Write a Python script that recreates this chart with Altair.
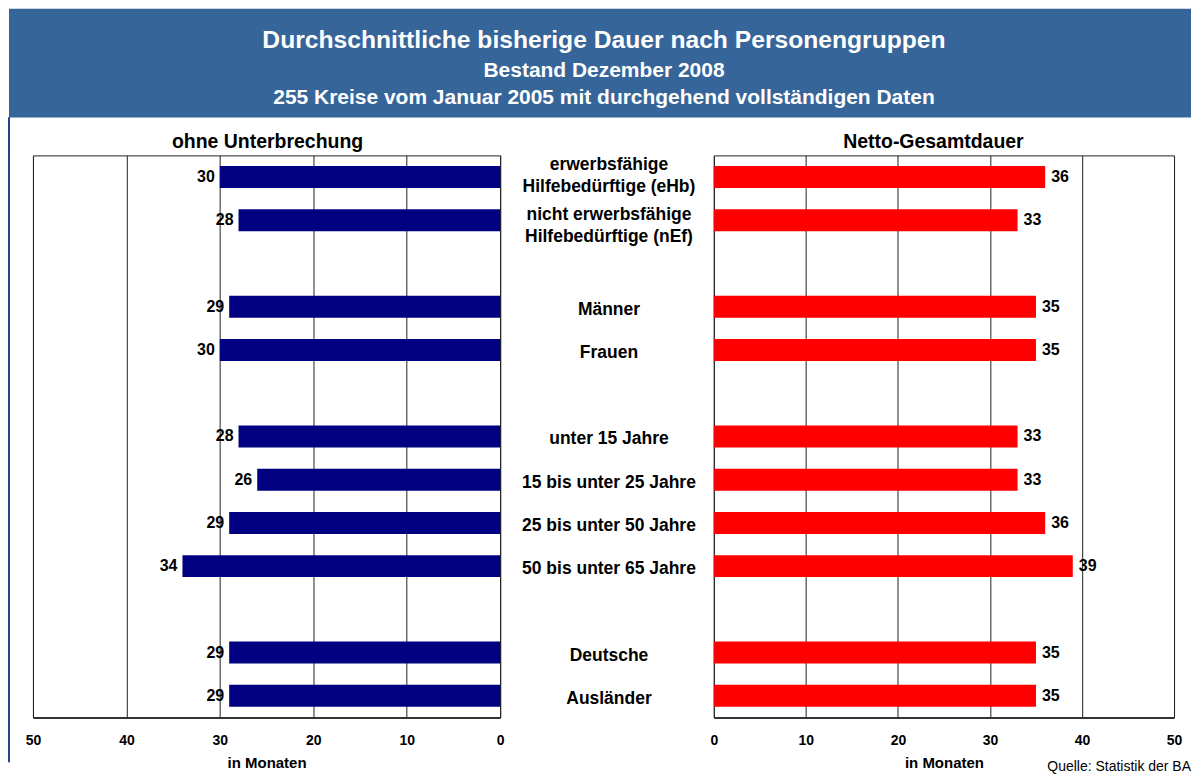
import altair as alt
import pandas as pd

FONT = "Liberation Sans"

title_lines = [
    "Durchschnittliche bisherige Dauer nach Personengruppen",
    "Bestand Dezember 2008",
    "255 Kreise vom Januar 2005 mit durchgehend vollständigen Daten",
]
panel_titles = ["ohne Unterbrechung", "Netto-Gesamtdauer"]
categories = [
    "erwerbsfähige\nHilfebedürftige (eHb)",
    "nicht erwerbsfähige\nHilfebedürftige (nEf)",
    "Männer",
    "Frauen",
    "unter 15 Jahre",
    "15 bis unter 25 Jahre",
    "25 bis unter 50 Jahre",
    "50 bis unter 65 Jahre",
    "Deutsche",
    "Ausländer",
]
keys = ["eHb", "nEf", "m", "f", "u15", "a15", "a25", "a50", "de", "au"]
two_line_keys = ["eHb", "nEf"]
slots = ["eHb", "nEf", "g1", "m", "f", "g2", "u15", "a15", "a25", "a50", "g3", "de", "au"]
ohne = [30, 28, 29, 30, 28, 26, 29, 34, 29, 29]
netto = [36, 33, 35, 35, 33, 33, 36, 39, 35, 35]
ticks = [0, 10, 20, 30, 40, 50]
axis_title = "in Monaten"
source = "Quelle: Statistik der BA"

df = pd.DataFrame({"key": keys, "label": categories, "ohne": ohne, "netto": netto})
one = pd.DataFrame({"a": [0]})

PW_L, PW_C, PW_R, PH = 468, 214, 461, 563

yenc = alt.Y("key:N", scale=alt.Scale(domain=slots, paddingInner=0, paddingOuter=0), axis=None)


def xaxis():
    return alt.Axis(
        values=ticks, title=axis_title, grid=True, gridColor="#222", gridWidth=1,
        ticks=False, domain=True, domainColor="#333", domainWidth=2,
        labelFont=FONT, labelFontSize=14, labelFontWeight="bold", labelColor="black",
        labelPadding=16, labelFlush=False,
        titleFont=FONT, titleFontSize=15, titleFontWeight="bold", titleColor="black",
        titlePadding=8,
    )


base = alt.Chart(df)

# Left panel
left_bars = base.mark_bar(color="#000080", size=22).encode(
    x=alt.X("ohne:Q", scale=alt.Scale(domain=[0, 50], reverse=True, nice=False), axis=xaxis()),
    y=yenc,
)
left_lbl = base.mark_text(align="right", baseline="middle", dx=-5, font=FONT, fontSize=16,
                          fontWeight="bold", color="black").encode(
    x="ohne:Q", y=yenc, text="ohne:Q")
left = alt.layer(left_bars, left_lbl).properties(
    width=PW_L, height=PH, view=alt.ViewBackground(stroke="#222", strokeWidth=1))

# Center labels
two_pred = alt.FieldOneOfPredicate(field="key", oneOf=two_line_keys)
center_one = base.transform_filter(~two_pred).mark_text(
    align="center", baseline="middle", dy=3, font=FONT, fontSize=17.5,
    fontWeight="bold", color="black").encode(
    x=alt.value(PW_C / 2 + 2), y=yenc, text="label:N")
center_a = base.transform_filter(alt.FieldEqualPredicate(field="key", equal=two_line_keys[0])).mark_text(
    align="center", baseline="middle", dy=-12, font=FONT, fontSize=17.5,
    fontWeight="bold", color="black", lineBreak="\n", lineHeight=22).encode(
    x=alt.value(PW_C / 2 + 2), y=yenc, text="label:N")
center_b = base.transform_filter(alt.FieldEqualPredicate(field="key", equal=two_line_keys[1])).mark_text(
    align="center", baseline="middle", dy=-5, font=FONT, fontSize=17.5,
    fontWeight="bold", color="black", lineBreak="\n", lineHeight=22).encode(
    x=alt.value(PW_C / 2 + 2), y=yenc, text="label:N")
center = alt.layer(center_one, center_a, center_b).properties(
    width=PW_C, height=PH, view=alt.ViewBackground(stroke=None))

# Right panel
right_bars = base.mark_bar(color="#FF0000", size=22).encode(
    x=alt.X("netto:Q", scale=alt.Scale(domain=[0, 50], nice=False), axis=xaxis()),
    y=yenc,
)
right_lbl = base.mark_text(align="left", baseline="middle", dx=6, font=FONT, fontSize=16,
                           fontWeight="bold", color="black").encode(
    x="netto:Q", y=yenc, text="netto:Q")
src = alt.Chart(pd.DataFrame({"t": [source]})).mark_text(
    align="right", baseline="middle", font=FONT, fontSize=14, color="black").encode(
    x=alt.value(478), y=alt.value(613), text="t:N")
right = alt.layer(right_bars, right_lbl, src).properties(
    width=PW_R, height=PH, view=alt.ViewBackground(stroke="#222", strokeWidth=1))

# Spacer with outer left border
spacer = alt.Chart(one).mark_rule(color="#1F4785", strokeWidth=2).encode(
    x=alt.value(0), y=alt.value(-38), y2=alt.value(608)
).properties(width=24, height=PH, view=alt.ViewBackground(stroke=None))

# Top banner + panel titles
TW, TH = 1184, 147
banner = alt.Chart(one).mark_rect(color="#36659A").encode(
    x=alt.value(0), x2=alt.value(TW), y=alt.value(0), y2=alt.value(109))
t1 = alt.Chart(pd.DataFrame({"t": [title_lines[0]]})).mark_text(
    font=FONT, fontSize=24.7, fontWeight="bold", color="white", baseline="middle").encode(
    x=alt.value(TW / 2 + 4), y=alt.value(32), text="t:N")
t2 = alt.Chart(pd.DataFrame({"t": [title_lines[1]]})).mark_text(
    font=FONT, fontSize=21, fontWeight="bold", color="white", baseline="middle").encode(
    x=alt.value(TW / 2 + 4), y=alt.value(62), text="t:N")
t3 = alt.Chart(pd.DataFrame({"t": [title_lines[2]]})).mark_text(
    font=FONT, fontSize=21, fontWeight="bold", color="white", baseline="middle").encode(
    x=alt.value(TW / 2 + 4), y=alt.value(90), text="t:N")
p1 = alt.Chart(pd.DataFrame({"t": [panel_titles[0]]})).mark_text(
    font=FONT, fontSize=19.5, fontWeight="bold", color="black", baseline="middle").encode(
    x=alt.value(259), y=alt.value(134), text="t:N")
p2 = alt.Chart(pd.DataFrame({"t": [panel_titles[1]]})).mark_text(
    font=FONT, fontSize=19.5, fontWeight="bold", color="black", baseline="middle").encode(
    x=alt.value(926), y=alt.value(134), text="t:N")
border_top = alt.Chart(one).mark_rule(color="#1F4785", strokeWidth=2).encode(
    x=alt.value(0), y=alt.value(109), y2=alt.value(TH))
top = alt.layer(banner, t1, t2, t3, p1, p2, border_top).properties(
    width=TW, height=TH, view=alt.ViewBackground(stroke=None))

lower = alt.hconcat(spacer, left, center, right, spacing=0, bounds="flush")
chart = alt.vconcat(top, lower, spacing=0, bounds="flush").properties(
    padding=0, background="white"
).configure_view(stroke=None)

chart.save("out.html", embed_options={"renderer": "svg", "actions": False})
